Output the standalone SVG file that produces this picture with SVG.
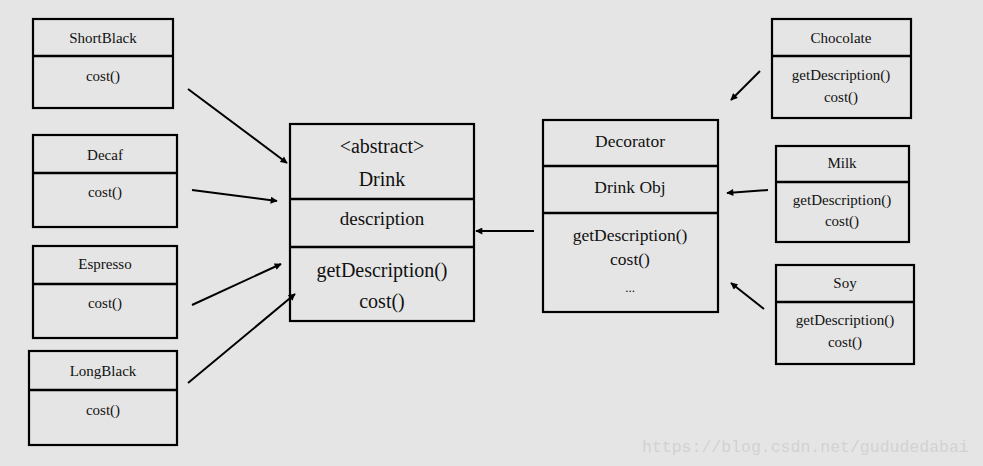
<svg xmlns="http://www.w3.org/2000/svg" width="983" height="466" viewBox="0 0 983 466">
<defs>
<style>
.bg{fill:#e5e5e5}
.box{fill:#e5e5e5;stroke:#000;stroke-width:2.2}
.div{stroke:#000;stroke-width:2.5;fill:none}
.t{font-family:'Liberation Serif','Times New Roman','DejaVu Serif',serif;fill:#111;text-anchor:middle}
.s{font-size:15px}
.m{font-size:17.5px}
.l{font-size:20px}
.con{stroke:#000;stroke-width:2;fill:none;marker-end:url(#ah)}
.wm{font-family:'Liberation Mono','DejaVu Sans Mono',monospace;font-size:16.5px;fill:#d2d2d2}
</style>
<marker id="ah" viewBox="0 0 10 10" refX="9" refY="5" markerWidth="4" markerHeight="3.5" orient="auto" markerUnits="strokeWidth">
<path d="M0,0 L10,5 L0,10 z" fill="#000"/>
</marker>
</defs>
<rect class="bg" x="0" y="0" width="983" height="466"/>

<g id="ShortBlack">
<rect class="box" x="33" y="19" width="140" height="89"/>
<line class="div" x1="33" y1="56" x2="173" y2="56"/>
<text class="t s" x="103" y="43">ShortBlack</text>
<text class="t s" x="103" y="81">cost()</text>
</g>

<g id="Decaf">
<rect class="box" x="33" y="135" width="144" height="92"/>
<line class="div" x1="33" y1="173" x2="177" y2="173"/>
<text class="t s" x="105" y="160">Decaf</text>
<text class="t s" x="105" y="197">cost()</text>
</g>

<g id="Espresso">
<rect class="box" x="33" y="246" width="144" height="92"/>
<line class="div" x1="33" y1="284" x2="177" y2="284"/>
<text class="t s" x="105" y="269">Espresso</text>
<text class="t s" x="105" y="308">cost()</text>
</g>

<g id="LongBlack">
<rect class="box" x="29" y="351" width="148" height="94"/>
<line class="div" x1="29" y1="390" x2="177" y2="390"/>
<text class="t s" x="103" y="376">LongBlack</text>
<text class="t s" x="103" y="415">cost()</text>
</g>

<g id="Drink">
<rect class="box" x="290" y="124" width="184" height="197"/>
<line class="div" x1="290" y1="199" x2="474" y2="199"/>
<line class="div" x1="290" y1="247" x2="474" y2="247"/>
<text class="t l" x="382" y="153">&lt;abstract&gt;</text>
<text class="t l" x="382" y="186">Drink</text>
<text class="t l" x="382" y="225" style="font-size:19px">description</text>
<text class="t l" x="382" y="277">getDescription()</text>
<text class="t l" x="382" y="308">cost()</text>
</g>

<g id="Decorator">
<rect class="box" x="543" y="120" width="175" height="192"/>
<line class="div" x1="543" y1="166" x2="718" y2="166"/>
<line class="div" x1="543" y1="213" x2="718" y2="213"/>
<text class="t m" x="630" y="147">Decorator</text>
<text class="t m" x="630" y="193">Drink Obj</text>
<text class="t m" x="630" y="241">getDescription()</text>
<text class="t m" x="630" y="265">cost()</text>
<text class="t m" x="630" y="292" style="font-size:13px">...</text>
</g>

<g id="Chocolate">
<rect class="box" x="772" y="19" width="139" height="99"/>
<line class="div" x1="772" y1="56" x2="911" y2="56"/>
<text class="t s" x="841" y="43">Chocolate</text>
<text class="t s" x="841" y="80">getDescription()</text>
<text class="t s" x="841" y="102">cost()</text>
</g>

<g id="Milk">
<rect class="box" x="776" y="146" width="133" height="96"/>
<line class="div" x1="776" y1="182" x2="909" y2="182"/>
<text class="t s" x="842" y="168">Milk</text>
<text class="t s" x="842" y="205">getDescription()</text>
<text class="t s" x="842" y="226">cost()</text>
</g>

<g id="Soy">
<rect class="box" x="776" y="265" width="138" height="99"/>
<line class="div" x1="776" y1="302" x2="914" y2="302"/>
<text class="t s" x="845" y="288">Soy</text>
<text class="t s" x="845" y="325">getDescription()</text>
<text class="t s" x="845" y="347">cost()</text>
</g>

<g id="connectors">
<line class="con" x1="188" y1="89" x2="287" y2="163"/>
<line class="con" x1="192" y1="190" x2="277" y2="201"/>
<line class="con" x1="192" y1="305" x2="281" y2="264"/>
<line class="con" x1="188" y1="383" x2="295" y2="294"/>
<line class="con" x1="534" y1="231" x2="476" y2="231"/>
<line class="con" x1="760" y1="71" x2="731" y2="100"/>
<line class="con" x1="768" y1="190" x2="727" y2="193"/>
<line class="con" x1="764" y1="309" x2="731" y2="283"/>
</g>

<text class="wm" x="642" y="452">https://blog.csdn.net/gududedabai</text>
</svg>
